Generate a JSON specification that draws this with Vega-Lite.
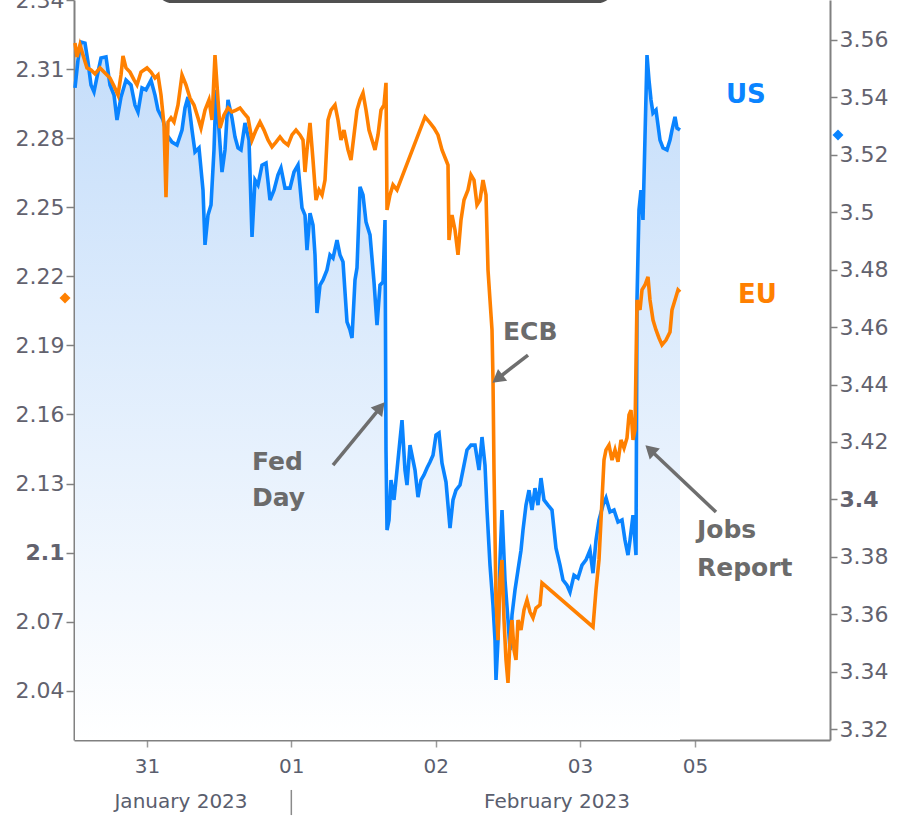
{
  "$schema": "https://vega.github.io/schema/vega-lite/v6.json",
  "width": 756,
  "height": 740,
  "autosize": "none",
  "padding": {"left": 74, "top": 0, "right": 68, "bottom": 85},
  "background": "white",
  "config": {"view": {"stroke": null}, "font": "DejaVu Sans"},
  "datasets": {
    "us": [{"t":-0.4989,"v":3.5433},{"t":-0.4781,"v":3.5530},{"t":-0.4573,"v":3.5593},{"t":-0.4296,"v":3.5589},{"t":-0.4088,"v":3.5523},{"t":-0.3880,"v":3.5443},{"t":-0.3672,"v":3.5419},{"t":-0.3464,"v":3.5471},{"t":-0.3187,"v":3.5537},{"t":-0.2841,"v":3.5541},{"t":-0.2564,"v":3.5443},{"t":-0.2286,"v":3.5408},{"t":-0.2079,"v":3.5321},{"t":-0.1801,"v":3.5401},{"t":-0.1455,"v":3.5460},{"t":-0.1109,"v":3.5443},{"t":-0.0831,"v":3.5373},{"t":-0.0624,"v":3.5349},{"t":-0.0346,"v":3.5433},{"t":-0.0069,"v":3.5426},{"t":0.0277,"v":3.5460},{"t":0.0554,"v":3.5408},{"t":0.0762,"v":3.5356},{"t":0.1109,"v":3.5321},{"t":0.1386,"v":3.5269},{"t":0.1732,"v":3.5244},{"t":0.2079,"v":3.5234},{"t":0.2425,"v":3.5286},{"t":0.2633,"v":3.5363},{"t":0.2841,"v":3.5401},{"t":0.3118,"v":3.5286},{"t":0.3326,"v":3.5210},{"t":0.3603,"v":3.5224},{"t":0.3880,"v":3.5077},{"t":0.4019,"v":3.4886},{"t":0.4226,"v":3.4990},{"t":0.4434,"v":3.5025},{"t":0.4642,"v":3.5217},{"t":0.4781,"v":3.5426},{"t":0.4989,"v":3.5286},{"t":0.5196,"v":3.5140},{"t":0.5404,"v":3.5217},{"t":0.5612,"v":3.5391},{"t":0.5889,"v":3.5328},{"t":0.6097,"v":3.5262},{"t":0.6305,"v":3.5224},{"t":0.6513,"v":3.5217},{"t":0.6790,"v":3.5311},{"t":0.7067,"v":3.5251},{"t":0.7275,"v":3.4914},{"t":0.7483,"v":3.5112},{"t":0.7691,"v":3.5095},{"t":0.7968,"v":3.5164},{"t":0.8245,"v":3.5171},{"t":0.8522,"v":3.5042},{"t":0.8799,"v":3.5077},{"t":0.9076,"v":3.5130},{"t":0.9284,"v":3.5154},{"t":0.9561,"v":3.5084},{"t":0.9908,"v":3.5084},{"t":1.0185,"v":3.5140},{"t":1.0462,"v":3.5164},{"t":1.0739,"v":3.5015},{"t":1.0947,"v":3.4990},{"t":1.1086,"v":3.4868},{"t":1.1293,"v":3.4997},{"t":1.1501,"v":3.4955},{"t":1.1640,"v":3.4851},{"t":1.1778,"v":3.4649},{"t":1.1986,"v":3.4746},{"t":1.2194,"v":3.4764},{"t":1.2471,"v":3.4799},{"t":1.2679,"v":3.4851},{"t":1.2887,"v":3.4840},{"t":1.3164,"v":3.4903},{"t":1.3372,"v":3.4851},{"t":1.3580,"v":3.4827},{"t":1.3857,"v":3.4618},{"t":1.4065,"v":3.4590},{"t":1.4204,"v":3.4562},{"t":1.4411,"v":3.4764},{"t":1.4550,"v":3.4806},{"t":1.4758,"v":3.5088},{"t":1.4965,"v":3.5060},{"t":1.5174,"v":3.4966},{"t":1.5451,"v":3.4921},{"t":1.5728,"v":3.4757},{"t":1.5936,"v":3.4607},{"t":1.6144,"v":3.4746},{"t":1.6351,"v":3.4757},{"t":1.6490,"v":3.4973},{"t":1.6559,"v":3.4172},{"t":1.6629,"v":3.3893},{"t":1.6767,"v":3.3928},{"t":1.6906,"v":3.4067},{"t":1.7113,"v":3.3998},{"t":1.7321,"v":3.4102},{"t":1.7529,"v":3.4207},{"t":1.7668,"v":3.4276},{"t":1.7875,"v":3.4102},{"t":1.8014,"v":3.4050},{"t":1.8222,"v":3.4189},{"t":1.8430,"v":3.4137},{"t":1.8569,"v":3.4102},{"t":1.8776,"v":3.4008},{"t":1.8984,"v":3.4067},{"t":1.9192,"v":3.4085},{"t":1.9400,"v":3.4109},{"t":1.9608,"v":3.4130},{"t":1.9816,"v":3.4154},{"t":2.0024,"v":3.4224},{"t":2.0231,"v":3.4231},{"t":2.0439,"v":3.4126},{"t":2.0717,"v":3.4060},{"t":2.0994,"v":3.3900},{"t":2.1201,"v":3.3998},{"t":2.1409,"v":3.4032},{"t":2.1686,"v":3.4050},{"t":2.1963,"v":3.4119},{"t":2.2171,"v":3.4172},{"t":2.2449,"v":3.4189},{"t":2.2726,"v":3.4189},{"t":2.3003,"v":3.4102},{"t":2.3211,"v":3.4217},{"t":2.3419,"v":3.4119},{"t":2.3557,"v":3.3963},{"t":2.3765,"v":3.3771},{"t":2.3973,"v":3.3632},{"t":2.4112,"v":3.3510},{"t":2.4181,"v":3.3371},{"t":2.4319,"v":3.3510},{"t":2.4458,"v":3.3789},{"t":2.4597,"v":3.3963},{"t":2.4804,"v":3.3719},{"t":2.5012,"v":3.3580},{"t":2.5151,"v":3.3475},{"t":2.5289,"v":3.3597},{"t":2.5497,"v":3.3684},{"t":2.5705,"v":3.3754},{"t":2.5913,"v":3.3823},{"t":2.6051,"v":3.3893},{"t":2.6259,"v":3.3980},{"t":2.6467,"v":3.4032},{"t":2.6675,"v":3.3963},{"t":2.6883,"v":3.4039},{"t":2.7090,"v":3.3980},{"t":2.7298,"v":3.4074},{"t":2.7506,"v":3.3998},{"t":2.7783,"v":3.3980},{"t":2.8060,"v":3.3963},{"t":2.8337,"v":3.3830},{"t":2.8615,"v":3.3771},{"t":2.8823,"v":3.3719},{"t":2.9100,"v":3.3701},{"t":2.9308,"v":3.3677},{"t":2.9585,"v":3.3736},{"t":2.9862,"v":3.3726},{"t":3.0139,"v":3.3771},{"t":3.0416,"v":3.3789},{"t":3.0693,"v":3.3823},{"t":3.0901,"v":3.3743},{"t":3.1109,"v":3.3858},{"t":3.1317,"v":3.3928},{"t":3.1594,"v":3.3980},{"t":3.1802,"v":3.4005},{"t":3.2079,"v":3.3956},{"t":3.2356,"v":3.3963},{"t":3.2633,"v":3.3921},{"t":3.2910,"v":3.3928},{"t":3.3118,"v":3.3858},{"t":3.3326,"v":3.3806},{"t":3.3465,"v":3.3858},{"t":3.3673,"v":3.3945},{"t":3.3880,"v":3.3806},{"t":3.3950,"v":3.4694},{"t":3.4088,"v":3.5008},{"t":3.4227,"v":3.5077},{"t":3.4365,"v":3.4973},{"t":3.4504,"v":3.5262},{"t":3.4643,"v":3.5547},{"t":3.4781,"v":3.5460},{"t":3.4920,"v":3.5391},{"t":3.5058,"v":3.5345},{"t":3.5266,"v":3.5356},{"t":3.5544,"v":3.5251},{"t":3.5751,"v":3.5224},{"t":3.6028,"v":3.5217},{"t":3.6236,"v":3.5251},{"t":3.6375,"v":3.5286},{"t":3.6583,"v":3.5332},{"t":3.6721,"v":3.5293},{"t":3.6929,"v":3.5286}],
    "eu": [{"t":-0.4989,"v":2.3213},{"t":-0.4850,"v":2.3152},{"t":-0.4642,"v":2.3205},{"t":-0.4434,"v":2.3161},{"t":-0.4157,"v":2.3105},{"t":-0.3880,"v":2.3096},{"t":-0.3603,"v":2.3079},{"t":-0.3256,"v":2.3105},{"t":-0.2979,"v":2.3087},{"t":-0.2564,"v":2.3061},{"t":-0.2286,"v":2.3026},{"t":-0.2009,"v":2.2987},{"t":-0.1801,"v":2.3074},{"t":-0.1663,"v":2.3157},{"t":-0.1455,"v":2.3105},{"t":-0.1178,"v":2.3087},{"t":-0.0901,"v":2.3053},{"t":-0.0693,"v":2.3031},{"t":-0.0416,"v":2.3087},{"t":0.0,"v":2.3105},{"t":0.0277,"v":2.3087},{"t":0.0554,"v":2.3061},{"t":0.0762,"v":2.3074},{"t":0.0970,"v":2.2987},{"t":0.1178,"v":2.2857},{"t":0.1316,"v":2.2544},{"t":0.1455,"v":2.2870},{"t":0.1663,"v":2.2888},{"t":0.1871,"v":2.2870},{"t":0.2148,"v":2.2944},{"t":0.2425,"v":2.3074},{"t":0.2702,"v":2.3031},{"t":0.2979,"v":2.2974},{"t":0.3256,"v":2.2944},{"t":0.3534,"v":2.2888},{"t":0.3741,"v":2.2844},{"t":0.4019,"v":2.2922},{"t":0.4296,"v":2.2966},{"t":0.4504,"v":2.2879},{"t":0.4711,"v":2.3161},{"t":0.4919,"v":2.2966},{"t":0.5058,"v":2.2844},{"t":0.5335,"v":2.2901},{"t":0.5612,"v":2.2931},{"t":0.5889,"v":2.2914},{"t":0.6166,"v":2.2922},{"t":0.6444,"v":2.2931},{"t":0.6721,"v":2.2909},{"t":0.6998,"v":2.2888},{"t":0.7275,"v":2.2792},{"t":0.7552,"v":2.2835},{"t":0.7829,"v":2.2870},{"t":0.8106,"v":2.2835},{"t":0.8384,"v":2.2792},{"t":0.8661,"v":2.2762},{"t":0.8938,"v":2.2783},{"t":0.9215,"v":2.2805},{"t":0.9492,"v":2.2783},{"t":0.9769,"v":2.2770},{"t":1.0046,"v":2.2814},{"t":1.0324,"v":2.2835},{"t":1.0601,"v":2.2814},{"t":1.0809,"v":2.2792},{"t":1.0947,"v":2.2653},{"t":1.1086,"v":2.2749},{"t":1.1294,"v":2.2866},{"t":1.1501,"v":2.2705},{"t":1.1709,"v":2.2531},{"t":1.1917,"v":2.2575},{"t":1.2125,"v":2.2553},{"t":1.2333,"v":2.2618},{"t":1.2541,"v":2.2879},{"t":1.2749,"v":2.2922},{"t":1.3026,"v":2.2944},{"t":1.3234,"v":2.2879},{"t":1.3441,"v":2.2792},{"t":1.3649,"v":2.2835},{"t":1.3926,"v":2.2749},{"t":1.4134,"v":2.2705},{"t":1.4342,"v":2.2814},{"t":1.4550,"v":2.2922},{"t":1.4758,"v":2.2966},{"t":1.4966,"v":2.2996},{"t":1.5174,"v":2.2922},{"t":1.5381,"v":2.2835},{"t":1.5589,"v":2.2792},{"t":1.5797,"v":2.2749},{"t":1.6005,"v":2.2814},{"t":1.6213,"v":2.2922},{"t":1.6421,"v":2.2944},{"t":1.6559,"v":2.3040},{"t":1.6629,"v":2.2488},{"t":1.6836,"v":2.2553},{"t":1.7044,"v":2.2597},{"t":1.7322,"v":2.2575},{"t":1.9262,"v":2.2892},{"t":1.9608,"v":2.2866},{"t":1.9885,"v":2.2844},{"t":2.0162,"v":2.2814},{"t":2.0439,"v":2.2749},{"t":2.0717,"v":2.2705},{"t":2.0855,"v":2.2683},{"t":2.0924,"v":2.2358},{"t":2.1132,"v":2.2466},{"t":2.1340,"v":2.2401},{"t":2.1548,"v":2.2293},{"t":2.1756,"v":2.2445},{"t":2.1964,"v":2.2531},{"t":2.2241,"v":2.2575},{"t":2.2449,"v":2.2640},{"t":2.2657,"v":2.2618},{"t":2.2864,"v":2.2510},{"t":2.3072,"v":2.2531},{"t":2.3280,"v":2.2618},{"t":2.3488,"v":2.2553},{"t":2.3627,"v":2.2227},{"t":2.3765,"v":2.2097},{"t":2.3904,"v":2.1967},{"t":2.3973,"v":2.1750},{"t":2.4042,"v":2.1359},{"t":2.4181,"v":2.0794},{"t":2.4319,"v":2.0620},{"t":2.4458,"v":2.0881},{"t":2.4597,"v":2.0968},{"t":2.4735,"v":2.0707},{"t":2.4874,"v":2.0534},{"t":2.5012,"v":2.0434},{"t":2.5151,"v":2.0620},{"t":2.5289,"v":2.0707},{"t":2.5428,"v":2.0577},{"t":2.5567,"v":2.0534},{"t":2.5705,"v":2.0707},{"t":2.5913,"v":2.0664},{"t":2.6121,"v":2.0751},{"t":2.6329,"v":2.0794},{"t":2.6537,"v":2.0742},{"t":2.6744,"v":2.0716},{"t":2.6952,"v":2.0759},{"t":2.7229,"v":2.0773},{"t":2.7368,"v":2.0868},{"t":3.0902,"v":2.0677},{"t":3.1109,"v":2.0838},{"t":3.1317,"v":2.0968},{"t":3.1456,"v":2.1142},{"t":3.1664,"v":2.1402},{"t":3.1802,"v":2.1446},{"t":3.2010,"v":2.1467},{"t":3.2218,"v":2.1402},{"t":3.2426,"v":2.1446},{"t":3.2634,"v":2.1394},{"t":3.2842,"v":2.1489},{"t":3.3049,"v":2.1454},{"t":3.3257,"v":2.1498},{"t":3.3396,"v":2.1598},{"t":3.3534,"v":2.1619},{"t":3.3673,"v":2.1489},{"t":3.3812,"v":2.1533},{"t":3.3950,"v":2.2097},{"t":3.4158,"v":2.2054},{"t":3.4297,"v":2.2141},{"t":3.4504,"v":2.2162},{"t":3.4712,"v":2.2197},{"t":3.4851,"v":2.2097},{"t":3.5059,"v":2.2010},{"t":3.5267,"v":2.1967},{"t":3.5474,"v":2.1932},{"t":3.5682,"v":2.1902},{"t":3.5959,"v":2.1923},{"t":3.6237,"v":2.1958},{"t":3.6375,"v":2.2054},{"t":3.6583,"v":2.2097},{"t":3.6791,"v":2.2141},{"t":3.6929,"v":2.2132}],
    "notes": [{"t":0.7275,"v":2.1394,"label":"Fed"},{"t":0.7275,"v":2.1237,"label":"Day"},{"t":2.4666,"v":2.1958,"label":"ECB"},{"t":3.8107,"v":2.1098,"label":"Jobs"},{"t":3.8107,"v":2.0933,"label":"Report"}],
    "arrows": [{"t":1.2887,"v":2.1380,"t2":1.6178,"v2":2.1631,"ht":1.6178,"hv":2.1631,"a":39.5},{"t":2.6398,"v":2.1858,"t2":2.4285,"v2":2.1755,"ht":2.4285,"hv":2.1755,"a":232},{"t":3.9423,"v":2.1176,"t2":3.4858,"v2":2.1447,"ht":3.4858,"hv":2.1447,"a":313}],
    "months": [{"t":0.2356,"v":1.9917,"label":"January 2023"},{"t":2.8407,"v":1.9917,"label":"February 2023"}],
    "sep": [{"t":1.0,"v":1.9969,"v2":1.9860}],
    "box": [{"t":0.076,"t2":3.222,"v":2.3393,"v2":2.38}],
    "eulast": [{"t":-0.5681,"v":2.2106}],
    "uslast": [{"t":4.7875,"v":3.5269}],
    "eulabel": [{"t":4.0948,"v":2.2119,"label":"EU"}],
    "uslabel": [{"t":4.0117,"v":2.2987,"label":"US"}]
  },
  "encoding": {
    "x": {"field": "t", "type": "quantitative", "scale": {"domain": [-0.5058, 4.7322], "nice": false, "zero": false},
      "axis": {"values": [0, 1, 2, 3, 3.797], "labelExpr": "datum.value < 0.5 ? '31' : datum.value < 1.5 ? '01' : datum.value < 2.5 ? '02' : datum.value < 3.5 ? '03' : '05'", "title": null, "grid": false, "domainColor": "#808080", "domainWidth": 2, "tickColor": "#9a9a9a", "tickSize": 7, "tickWidth": 1.5, "labelFontSize": 20, "labelColor": "#5a5e6e", "labelPadding": 9, "labelFont": "DejaVu Sans"}}
  },
  "layer": [
    {
      "data": {"name": "us"},
      "mark": {"type": "area", "fill": {"gradient": "linear", "x1": 0, "y1": 0, "x2": 0, "y2": 1, "stops": [{"offset": 0, "color": "#c4ddfa"}, {"offset": 1, "color": "#ffffff"}]}},
      "encoding": {
        "y": {"field": "v", "type": "quantitative", "scale": {"domain": [3.3162, 3.5739], "nice": false, "zero": false},
          "axis": {"orient": "right", "values": [3.32, 3.34, 3.36, 3.38, 3.4, 3.42, 3.44, 3.46, 3.48, 3.5, 3.52, 3.54, 3.56], "format": "~g", "title": null, "grid": false, "domainColor": "#808080", "domainWidth": 2, "tickColor": "#808080", "tickSize": 7, "tickWidth": 1.5, "labelFontSize": 22, "labelColor": "#62626e", "labelPadding": 2, "labelFont": "DejaVu Sans", "labelOverlap": false, "labelFlush": false, "labelFontWeight": {"condition": {"test": "abs(datum.value - 3.4) < 0.0001", "value": "bold"}, "value": "normal"}}},
        "y2": {"datum": 3.3162}
      }
    },
    {
      "data": {"name": "us"},
      "mark": {"type": "line", "color": "#0a84ff", "strokeWidth": 3.6},
      "encoding": {
        "y": {"field": "v", "type": "quantitative", "scale": {"domain": [3.3162, 3.5739], "nice": false, "zero": false}, "axis": null}
      }
    },
    {
      "data": {"name": "uslast"},
      "mark": {"type": "point", "shape": "diamond", "filled": true, "color": "#0a84ff", "size": 120, "opacity": 1},
      "encoding": {
        "y": {"field": "v", "type": "quantitative", "scale": {"domain": [3.3162, 3.5739], "nice": false, "zero": false}, "axis": null}
      }
    },
    {
      "data": {"name": "eu"},
      "mark": {"type": "line", "color": "#ff8000", "strokeWidth": 3.6},
      "encoding": {
        "y": {"field": "v", "type": "quantitative", "scale": {"domain": [2.0186, 2.34], "nice": false, "zero": false},
          "axis": {"orient": "left", "values": [2.04, 2.07, 2.1, 2.13, 2.16, 2.19, 2.22, 2.25, 2.28, 2.31, 2.34], "format": "~g", "title": null, "grid": false, "domainColor": "#808080", "domainWidth": 2, "tickColor": "#808080", "tickSize": 8, "tickWidth": 1.5, "labelFontSize": 22, "labelColor": "#62626e", "labelPadding": 2, "labelFont": "DejaVu Sans", "labelOverlap": false, "labelFlush": false, "labelFontWeight": {"condition": {"test": "abs(datum.value - 2.1) < 0.0001", "value": "bold"}, "value": "normal"}}}
      }
    },
    {
      "data": {"name": "eulast"},
      "mark": {"type": "point", "shape": "diamond", "filled": true, "color": "#ff8000", "size": 120, "opacity": 1},
      "encoding": {
        "y": {"field": "v", "type": "quantitative", "scale": {"domain": [2.0186, 2.34], "nice": false, "zero": false}, "axis": null}
      }
    },
    {
      "data": {"name": "box"},
      "mark": {"type": "rect", "fill": "white", "stroke": "#505050", "strokeWidth": 3, "cornerRadius": 14},
      "encoding": {
        "x2": {"field": "t2"},
        "y": {"field": "v", "type": "quantitative", "scale": {"domain": [2.0186, 2.34], "nice": false, "zero": false}, "axis": null},
        "y2": {"field": "v2"}
      }
    },
    {
      "data": {"name": "arrows"},
      "mark": {"type": "rule", "color": "#6e6e6e", "strokeWidth": 3.5},
      "encoding": {
        "x2": {"field": "t2"},
        "y": {"field": "v", "type": "quantitative", "scale": {"domain": [2.0186, 2.34], "nice": false, "zero": false}, "axis": null},
        "y2": {"field": "v2"}
      }
    },
    {
      "data": {"name": "arrows"},
      "mark": {"type": "point", "shape": "triangle-up", "filled": true, "color": "#6e6e6e", "size": 220, "opacity": 1},
      "encoding": {
        "x": {"field": "ht", "type": "quantitative"},
        "y": {"field": "hv", "type": "quantitative", "scale": {"domain": [2.0186, 2.34], "nice": false, "zero": false}, "axis": null},
        "angle": {"field": "a", "type": "quantitative", "scale": null}
      }
    },
    {
      "data": {"name": "notes"},
      "mark": {"type": "text", "align": "left", "baseline": "middle", "font": "DejaVu Sans", "fontWeight": "bold", "fontSize": 25, "color": "#6b6b6b"},
      "encoding": {
        "y": {"field": "v", "type": "quantitative", "scale": {"domain": [2.0186, 2.34], "nice": false, "zero": false}, "axis": null},
        "text": {"field": "label"}
      }
    },
    {
      "data": {"name": "uslabel"},
      "mark": {"type": "text", "align": "left", "baseline": "middle", "font": "DejaVu Sans", "fontWeight": "bold", "fontSize": 26, "color": "#0a84ff"},
      "encoding": {
        "y": {"field": "v", "type": "quantitative", "scale": {"domain": [2.0186, 2.34], "nice": false, "zero": false}, "axis": null},
        "text": {"field": "label"}
      }
    },
    {
      "data": {"name": "eulabel"},
      "mark": {"type": "text", "align": "left", "baseline": "middle", "font": "DejaVu Sans", "fontWeight": "bold", "fontSize": 26, "color": "#ff8000"},
      "encoding": {
        "y": {"field": "v", "type": "quantitative", "scale": {"domain": [2.0186, 2.34], "nice": false, "zero": false}, "axis": null},
        "text": {"field": "label"}
      }
    },
    {
      "data": {"name": "months"},
      "mark": {"type": "text", "align": "center", "baseline": "middle", "font": "DejaVu Sans", "fontSize": 20, "color": "#5a5e6e"},
      "encoding": {
        "y": {"field": "v", "type": "quantitative", "scale": {"domain": [2.0186, 2.34], "nice": false, "zero": false}, "axis": null},
        "text": {"field": "label"}
      }
    },
    {
      "data": {"name": "sep"},
      "mark": {"type": "rule", "color": "#8a8a8a", "strokeWidth": 1.5},
      "encoding": {
        "y": {"field": "v", "type": "quantitative", "scale": {"domain": [2.0186, 2.34], "nice": false, "zero": false}, "axis": null},
        "y2": {"field": "v2"}
      }
    }
  ],
  "resolve": {"scale": {"y": "independent"}, "axis": {"y": "independent"}}
}
